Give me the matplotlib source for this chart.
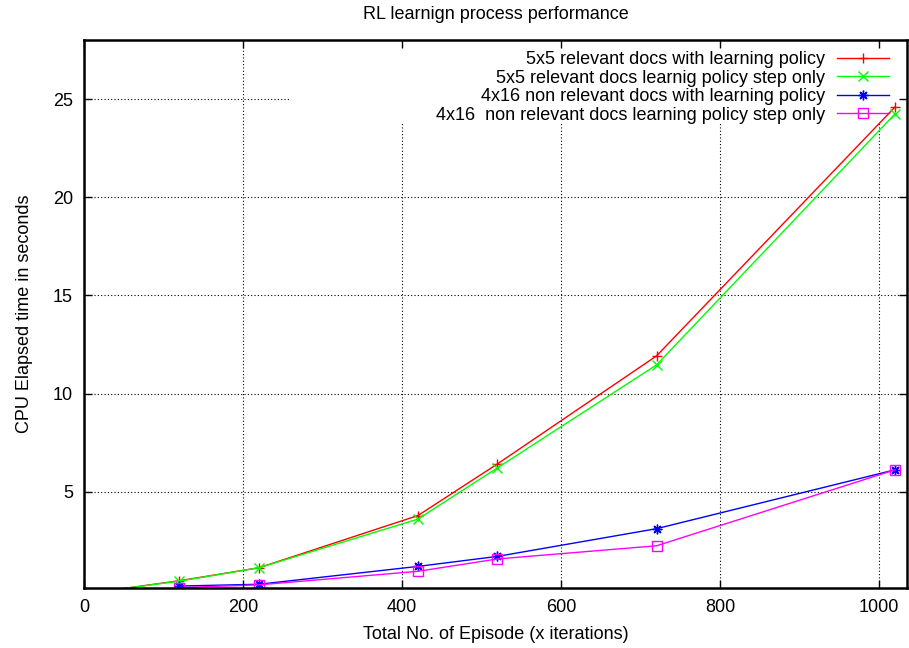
import matplotlib
matplotlib.use("Agg")
import matplotlib.pyplot as plt
from matplotlib.patches import Rectangle

plt.rcParams['font.family'] = ['Liberation Sans', 'DejaVu Sans']

# data
x_5x5 = [40, 120, 220, 420, 520, 720, 1020]
y_5x5_policy = [0.02, 0.47, 1.13, 3.79, 6.42, 11.92, 24.6]
y_5x5_step = [0.02, 0.45, 1.13, 3.61, 6.22, 11.46, 24.25]
x_4x16 = [120, 220, 420, 520, 720, 1020]
y_4x16_policy = [0.2, 0.29, 1.2, 1.71, 3.12, 6.12]
y_4x16_step = [0.12, 0.26, 0.95, 1.58, 2.25, 6.12]

labels = [
    "5x5 relevant docs with learning policy",
    "5x5 relevant docs learnig policy step only",
    "4x16 non relevant docs with learning policy",
    "4x16  non relevant docs learning policy step only",
]
xticks = [0, 200, 400, 600, 800, 1000]
yticks = [5, 10, 15, 20, 25]
xlim = (0, 1035)
ylim = (0.1, 28)

FS = 13
fig = plt.figure(figsize=(9.09, 6.48), dpi=100)
pos = [0.0924, 0.0926, 0.9054, 0.8454]
ax = fig.add_axes(pos)
ax.set_axisbelow(True)

ms = 7
ax.plot(x_5x5, y_5x5_policy, color='#ff0000', lw=1, marker='+', ms=ms, mew=1,
        label=labels[0], markevery=slice(1, None), zorder=2)
ax.plot(x_5x5, y_5x5_step, color='#00ff00', lw=1, marker='x', ms=ms, mew=1,
        label=labels[1], markevery=slice(1, None), zorder=2)
ax.plot(x_4x16, y_4x16_policy, color='#0000ff', lw=1, marker=(8, 2, 0), ms=ms, mew=1,
        label=labels[2], zorder=2)
ax.plot(x_4x16, y_4x16_step, color='#ff00ff', lw=1, marker='s', ms=ms, mew=1,
        mfc='none', label=labels[3], zorder=2)

ax.set_xlim(*xlim)
ax.set_ylim(*ylim)
ax.set_xticks(xticks)
ax.set_yticks(yticks)
ax.tick_params(direction='in', length=0, labelsize=FS)
ax.tick_params(axis='x', pad=8)
ax.tick_params(axis='y', pad=8)
ax.grid(True, color='black', linestyle=(0, (1, 2)), linewidth=0.8)
for s in ax.spines.values():
    s.set_linewidth(1.8)
    s.set_zorder(3)

# white key background (gnuplot style), hides the grid behind the key
ax.add_patch(Rectangle((0.25, 0.85), 0.75, 0.15, transform=ax.transAxes,
                       facecolor='white', edgecolor='none', zorder=1))

ax.set_title("RL learnign process performance", fontsize=FS, pad=15)
ax.set_xlabel("Total No. of Episode (x iterations)", fontsize=FS, labelpad=7)
ax.set_ylabel("CPU Elapsed time in seconds", fontsize=FS, labelpad=14)

leg = ax.legend(loc='upper right', bbox_to_anchor=(0.987, 0.993),
                markerfirst=False, frameon=False, fontsize=FS,
                handlelength=2.9, handletextpad=0.65, labelspacing=0.08,
                borderaxespad=0.0, borderpad=0.4)
leg.set_zorder(1.5)

# overlay axes carrying the inward ticks on all four sides
axt = fig.add_axes(pos, sharex=ax, sharey=ax, frameon=False, zorder=5)
axt.patch.set_visible(False)
axt.tick_params(direction='in', length=6, width=1, top=True, right=True,
                bottom=True, left=True, labelbottom=False, labelleft=False)

fig.savefig("out.png", dpi=100)
